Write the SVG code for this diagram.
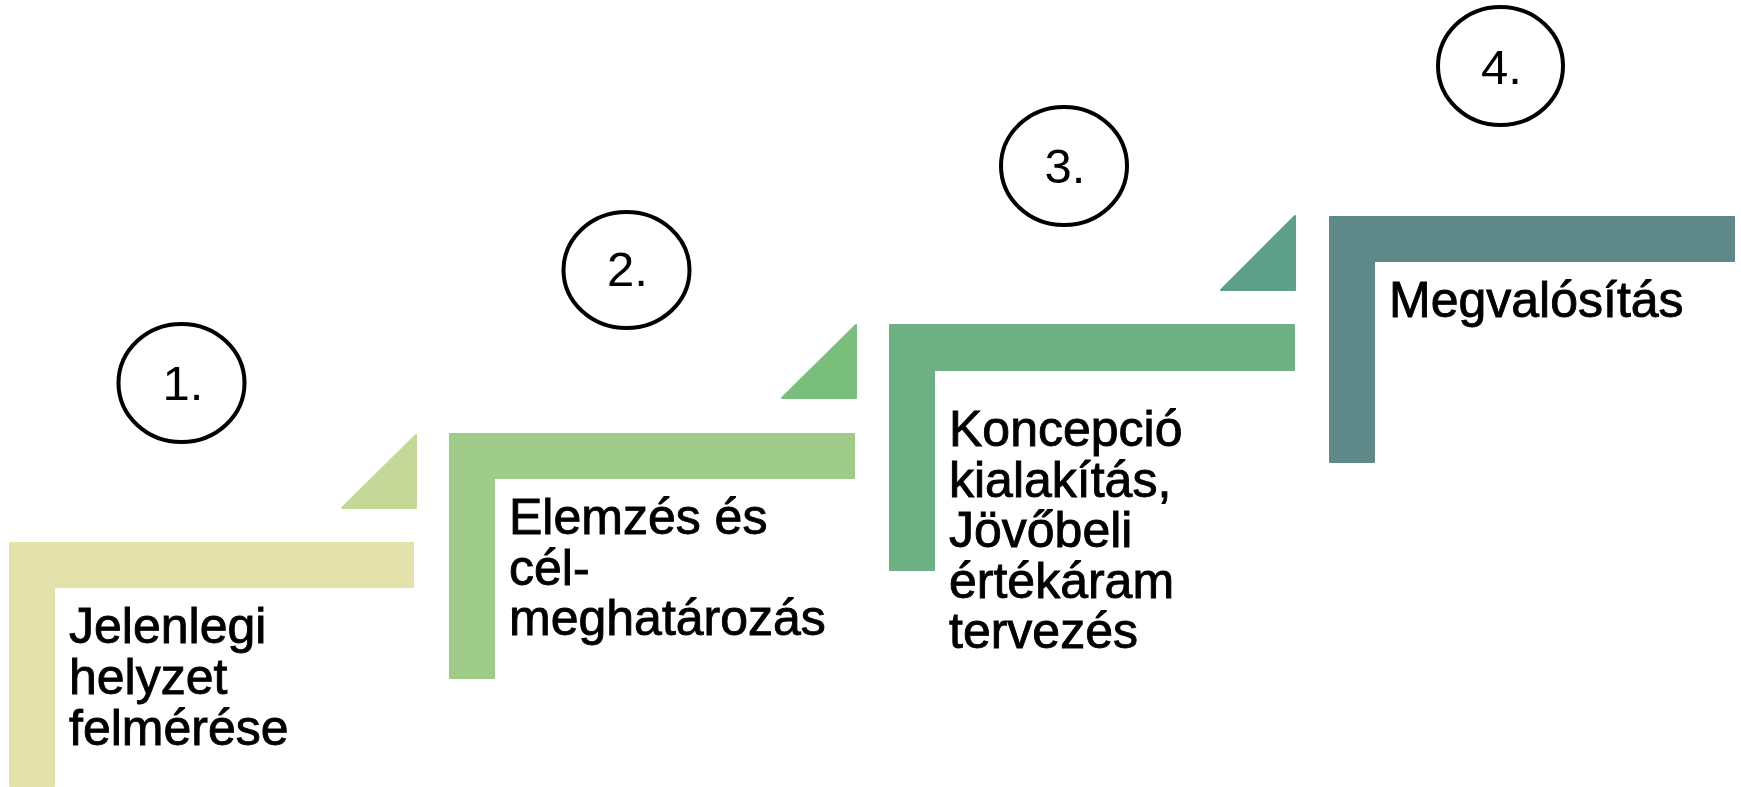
<svg xmlns="http://www.w3.org/2000/svg" width="1741" height="787" viewBox="0 0 1741 787">
<style>
.lbl{font-family:"Liberation Sans",Arial,sans-serif;font-size:50px;fill:#000;stroke:#000;stroke-width:0.9px}
.num{font-family:"Liberation Sans",Arial,sans-serif;font-size:49px;fill:#000;text-anchor:middle}
.ring{fill:#fff;stroke:#000;stroke-width:4}
.shape{stroke-linejoin:round;stroke-width:2}
</style>
<rect width="1741" height="787" fill="#fff"/>
<g id="step1">
<path class="shape" d="M10,543 H413 V587 H54 V786 H10 Z" fill="#E2E2AA" stroke="#E2E2AA"/>
<path class="shape" d="M342,508 L416,435 L416,508 Z" fill="#C5D898" stroke="#C5D898"/>
<ellipse class="ring" cx="181.5" cy="383" rx="63" ry="59"/>
<text class="num" x="183" y="400">1.</text>
<text class="lbl" x="69" y="643">Jelenlegi</text>
<text class="lbl" x="69" y="694">helyzet</text>
<text class="lbl" x="69" y="745">felmérése</text>
</g>
<g id="step2">
<path class="shape" d="M450,434 H854 V478 H494 V678 H450 Z" fill="#A0CC8A" stroke="#A0CC8A"/>
<path class="shape" d="M782,398 L856,325 L856,398 Z" fill="#7ABE7C" stroke="#7ABE7C"/>
<ellipse class="ring" cx="626.5" cy="270" rx="63" ry="58"/>
<text class="num" x="627.5" y="286">2.</text>
<text class="lbl" x="509" y="534">Elemzés és</text>
<text class="lbl" x="509" y="584.5">cél-</text>
<text class="lbl" x="509" y="635">meghatározás</text>
</g>
<g id="step3">
<path class="shape" d="M890,325 H1294 V370 H934 V570 H890 Z" fill="#6CB084" stroke="#6CB084"/>
<path class="shape" d="M1221,290 L1295,216 L1295,290 Z" fill="#5FA08A" stroke="#5FA08A"/>
<ellipse class="ring" cx="1064" cy="166" rx="63" ry="59"/>
<text class="num" x="1065" y="183">3.</text>
<text class="lbl" x="949" y="446">Koncepció</text>
<text class="lbl" x="949" y="496.5">kialakítás,</text>
<text class="lbl" x="949" y="547">Jövőbeli</text>
<text class="lbl" x="949" y="597.5">értékáram</text>
<text class="lbl" x="949" y="648">tervezés</text>
</g>
<g id="step4">
<path class="shape" d="M1330,217 H1734 V261 H1374 V462 H1330 Z" fill="#5E8988" stroke="#5E8988"/>
<ellipse class="ring" cx="1500.5" cy="66" rx="62.5" ry="59"/>
<text class="num" x="1501.5" y="84">4.</text>
<text class="lbl" x="1389" y="317">Megvalósítás</text>
</g>
<g id="connectors"/>
</svg>
